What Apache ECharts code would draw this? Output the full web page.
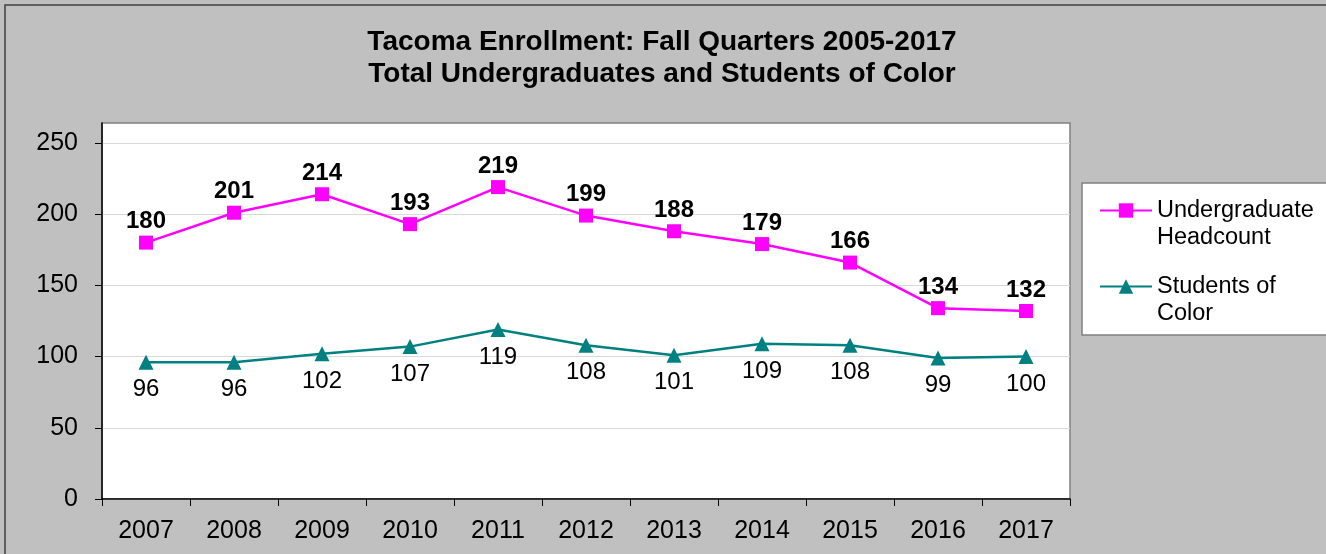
<!DOCTYPE html>
<html>
<head>
<meta charset="utf-8">
<script src="https://cdn.jsdelivr.net/npm/echarts@6/dist/echarts.min.js"></script>
<style>
html,body{margin:0;padding:0;background:#c0c0c0;}
#chart{width:1326px;height:554px;}
</style>
</head>
<body>
<div id="chart"></div>
<script>
const categories = ['2007','2008','2009','2010','2011','2012','2013','2014','2015','2016','2017'];
const undergradHeadcount = [180,201,214,193,219,199,188,179,166,134,132];
const studentsOfColor = [96,96,102,107,119,108,101,109,108,99,100];
const yTickValues = [0,50,100,150,200,250];
const legendLabels = {
  'Undergraduate Headcount': '\nUndergraduate\nHeadcount',
  'Students of Color': '\nStudents of\nColor'
};

const chart = echarts.init(document.getElementById('chart'));
const FONT = '"Liberation Sans", Arial, sans-serif';
chart.setOption({
  backgroundColor: '#c0c0c0',
  animation: false,
  textStyle: {fontFamily: FONT},
  graphic: [{
    type: 'rect', silent: true, z: -10,
    shape: {x: 5, y: 5, width: 1330, height: 560},
    style: {fill: '#c0c0c0', stroke: '#404040', lineWidth: 1.5}
  }, {
    type: 'rect', silent: true, z: -5,
    shape: {x: 1082, y: 183, width: 260, height: 152},
    style: {fill: '#fff', stroke: '#808080', lineWidth: 1.5}
  }],
  title: {
    text: 'Tacoma Enrollment: Fall Quarters 2005-2017\nTotal Undergraduates and Students of Color',
    left: 657, textAlign: 'center', top: 21,
    textStyle: {fontFamily: FONT, fontSize: 28, fontWeight: 'bold', color: '#000', lineHeight: 32}
  },
  legend: {
    orient: 'vertical',
    left: 1099, top: 170,
    padding: 0,
    itemWidth: 52, itemHeight: 18, itemGap: -5,
    textStyle: {fontFamily: FONT, fontSize: 23.5, color: '#000', lineHeight: 27},
    formatter: name => legendLabels[name],
    data: ['Undergraduate Headcount', 'Students of Color']
  },
  grid: {
    left: 102, right: 256, top: 123, bottom: 55,
    show: true, backgroundColor: '#fff', borderColor: '#808080', borderWidth: 1.5
  },
  xAxis: {
    type: 'category', data: categories, boundaryGap: true,
    axisLine: {lineStyle: {color: '#000', width: 1.5}},
    axisTick: {show: true, length: 7, lineStyle: {color: '#000'}},
    axisLabel: {fontFamily: FONT, fontSize: 25, color: '#000', margin: 20}
  },
  yAxis: {
    type: 'value', min: 0, max: 264, interval: 50,
    axisLine: {show: true, lineStyle: {color: '#000', width: 1.5}},
    axisTick: {show: true, length: 7, lineStyle: {color: '#000'}, customValues: yTickValues},
    axisLabel: {fontFamily: FONT, fontSize: 25, color: '#000', margin: 24, customValues: yTickValues},
    splitLine: {lineStyle: {color: '#d9d9d9', width: 1}}
  },
  series: [{
    name: 'Undergraduate Headcount', type: 'line', data: undergradHeadcount,
    color: '#ff00ff',
    symbol: 'rect', symbolSize: 14,
    lineStyle: {width: 2.5, color: '#ff00ff'},
    itemStyle: {color: '#ff00ff'},
    label: {show: true, position: 'top', distance: 2, fontFamily: FONT, fontSize: 24, fontWeight: 'bold', color: '#000'}
  }, {
    name: 'Students of Color', type: 'line', data: studentsOfColor,
    color: '#008080',
    symbol: 'triangle', symbolSize: 15,
    lineStyle: {width: 2.5, color: '#008080'},
    itemStyle: {color: '#008080'},
    label: {show: true, position: 'bottom', distance: 8, fontFamily: FONT, fontSize: 24, color: '#000'}
  }]
});
</script>
</body>
</html>
